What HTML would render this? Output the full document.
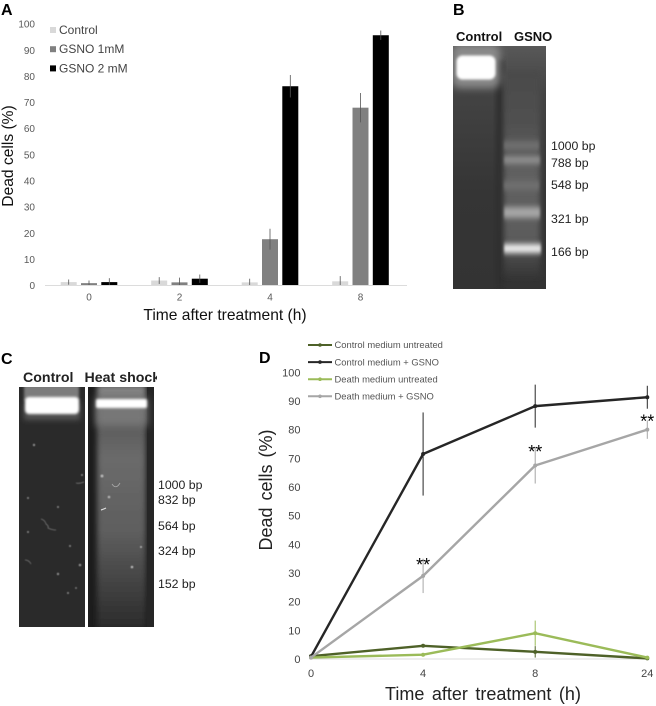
<!DOCTYPE html>
<html lang="en">
<head>
<meta charset="utf-8">
<title>Dead cells after treatment</title>
<style>
html,body{margin:0;padding:0;background:#fff;}
svg{display:block;font-family:"Liberation Sans",Arial,sans-serif;}
</style>
</head>
<body>
<svg id="fig" xmlns="http://www.w3.org/2000/svg" width="656" height="706" viewBox="0 0 656 706">
<defs>
<filter id="b1" x="-30%" y="-30%" width="160%" height="160%"><feGaussianBlur stdDeviation="1.3"/></filter>
<filter id="b2" x="-30%" y="-100%" width="160%" height="300%"><feGaussianBlur stdDeviation="2.6"/></filter>
<filter id="b3" x="-30%" y="-200%" width="160%" height="500%"><feGaussianBlur stdDeviation="1.2 3"/></filter>
<filter id="b4" x="-30%" y="-30%" width="160%" height="160%"><feGaussianBlur stdDeviation="4"/></filter>
<filter id="bs" x="-100%" y="-100%" width="300%" height="300%"><feGaussianBlur stdDeviation="0.6"/></filter>
<clipPath id="clipB"><rect x="453" y="46" width="93" height="243"/></clipPath>
<clipPath id="clipC1"><rect x="19" y="387" width="66" height="240"/></clipPath>
<clipPath id="clipC2"><rect x="88" y="387" width="66" height="240"/></clipPath>
<linearGradient id="gelBbg" x1="0" y1="0" x2="0" y2="1">
<stop offset="0" stop-color="#585858"/><stop offset="0.2" stop-color="#434343"/><stop offset="0.6" stop-color="#353535"/><stop offset="1" stop-color="#333333"/>
</linearGradient>
<linearGradient id="laneB" x1="0" y1="0" x2="0" y2="1">
<stop offset="0" stop-color="#4a4a4a"/><stop offset="0.25" stop-color="#505050"/><stop offset="0.5" stop-color="#606060"/><stop offset="0.8" stop-color="#5c5c5c"/><stop offset="1" stop-color="#363636"/>
</linearGradient>
<linearGradient id="laneC" x1="0" y1="0" x2="0" y2="1">
<stop offset="0" stop-color="#8a8a8a"/><stop offset="0.14" stop-color="#5a5a5a"/><stop offset="0.3" stop-color="#6a6a6a"/><stop offset="0.6" stop-color="#5e5e5e"/><stop offset="0.85" stop-color="#3e3e3e"/><stop offset="1" stop-color="#2a2a2a"/>
</linearGradient>
</defs>
<rect width="656" height="706" fill="#fff"/>

<!-- Panel labels -->
<text x="1" y="15" font-size="16" font-weight="bold" fill="#000">A</text>
<text x="453" y="15" font-size="16" font-weight="bold" fill="#000">B</text>
<text x="1" y="364" font-size="16" font-weight="bold" fill="#000">C</text>
<text x="259" y="363" font-size="16" font-weight="bold" fill="#000">D</text>

<!-- Panel B gel -->
<g>
<text x="456" y="41" font-size="13" font-weight="bold" fill="#111">Control</text>
<text x="514" y="41" font-size="13" font-weight="bold" fill="#111">GSNO</text>
<g clip-path="url(#clipB)">
<rect x="453" y="46" width="93" height="243" fill="url(#gelBbg)"/>
<rect x="496" y="60" width="8" height="229" fill="#2e2e2e" filter="url(#b2)"/>
<rect x="504" y="72" width="36" height="205" fill="url(#laneB)" filter="url(#b2)"/>
<rect x="452" y="44" width="48" height="44" rx="8" fill="#8a8a8a" filter="url(#b4)"/>
<rect x="456.5" y="55.5" width="39" height="24" rx="6" fill="#fff" filter="url(#b1)"/>
<rect x="504" y="141" width="35" height="9" fill="#707070" filter="url(#b3)"/>
<rect x="504" y="156" width="36" height="8" fill="#8e8e8e" filter="url(#b3)"/>
<rect x="504" y="181" width="35" height="9" fill="#707070" filter="url(#b3)"/>
<rect x="504" y="207" width="36" height="11" fill="#a6a6a6" filter="url(#b3)"/>
<rect x="504" y="244" width="37" height="9" fill="#f0f0f0" filter="url(#b3)"/>
</g>
</g>
<g font-size="12.3" fill="#222">
<text x="551" y="150">1000 bp</text>
<text x="551" y="167">788 bp</text>
<text x="551" y="189">548 bp</text>
<text x="551" y="223">321 bp</text>
<text x="551" y="256">166 bp</text>
</g>

<!-- Panel C gel -->
<g>
<text x="23" y="382" font-size="14.2" font-weight="bold" fill="#222">Control</text>
<svg x="0" y="360" width="157" height="30"><text x="84.5" y="22" font-size="14.2" font-weight="bold" fill="#222">Heat shock</text></svg>
<g clip-path="url(#clipC1)">
<rect x="19" y="387" width="66" height="240" fill="#2a2a2a"/>
<rect x="24" y="385" width="55" height="16" fill="#7c7c7c" filter="url(#b1)"/>
<rect x="24" y="402" width="56" height="18" fill="#555" filter="url(#b2)"/>
<rect x="25" y="397" width="54" height="17" rx="4" fill="#fff" filter="url(#b1)"/>
<g fill="none" stroke="#777" stroke-width="0.8" filter="url(#bs)">
<path d="M41 519 q4 1 5 5 q3 2 2 4 q4 2 8 2"/>
<path d="M25 560 q4 0 6 4"/>
<path d="M76 483 q3 1 8 -1"/>
</g>
<g fill="#8a8a8a" filter="url(#bs)">
<circle cx="34" cy="445" r="1.2"/><circle cx="58" cy="574" r="1.2"/><circle cx="80" cy="565" r="1.3"/><circle cx="68" cy="593" r="1"/><circle cx="28" cy="498" r="1"/><circle cx="28" cy="532" r="1"/><circle cx="70" cy="546" r="1"/><circle cx="58" cy="507" r="1"/><circle cx="82" cy="475" r="1"/><circle cx="76" cy="588" r="0.9"/>
</g>
</g>
<g clip-path="url(#clipC2)">
<rect x="88" y="387" width="66" height="240" fill="#1c1c1c"/>
<rect x="97" y="385" width="49" height="244" fill="url(#laneC)" filter="url(#b2)"/>
<rect x="147" y="387" width="7" height="240" fill="#262626"/>
<rect x="96" y="398" width="51" height="28" fill="#777" filter="url(#b4)"/>
<rect x="96" y="399" width="51" height="9" rx="2" fill="#fff" filter="url(#b1)"/>
<g fill="#b5b5b5" filter="url(#bs)">
<circle cx="102" cy="476" r="1.5"/><circle cx="109" cy="497" r="1.3"/><circle cx="132" cy="567" r="1.3"/><circle cx="141" cy="547" r="1"/>
</g>
<path d="M101 510 q3 -1 5 -2" stroke="#ddd" stroke-width="1.2" fill="none"/>
<path d="M112 484 q4 6 8 -1" stroke="#aaa" stroke-width="0.8" fill="none"/>
</g>
</g>
<rect x="85" y="387" width="3" height="240" fill="#fff"/>
<g font-size="12.3" fill="#222">
<text x="158" y="489">1000 bp</text>
<text x="158" y="504">832 bp</text>
<text x="158" y="530">564 bp</text>
<text x="158" y="555">324 bp</text>
<text x="158" y="588">152 bp</text>
</g>
<g id="chartA"></g>
<g id="chartD"></g>
</svg>
<script>
// Panel A data
const barCategories = ['0', '2', '4', '8'];
const barSeriesNames = ['Control', 'GSNO 1mM', 'GSNO 2 mM'];
const barControl = [1.3, 1.9, 1.2, 1.6];
const barGsno1 = [0.9, 1.2, 17.7, 68];
const barGsno2 = [1.3, 2.6, 76.2, 95.7];
const barControlErr = [1, 1.3, 1.4, 2];
const barGsno1Err = [1, 1.8, 4, 5.6];
const barGsno2Err = [1.5, 1.6, 4.3, 1.8];
const barYTicks = [0, 10, 20, 30, 40, 50, 60, 70, 80, 90, 100];

// Panel D data
const lineCategories = ['0', '4', '8', '24'];
const lineYTicks = [0, 10, 20, 30, 40, 50, 60, 70, 80, 90, 100];
const lineSeriesNames = ['Control medium untreated', 'Control medium + GSNO', 'Death medium untreated', 'Death medium + GSNO'];
const controlUntreated = [1, 4.6, 2.5, 0.2];
const controlGsno = [0.8, 71.5, 88.2, 91.3];
const deathUntreated = [0.5, 1.5, 9, 0.5];
const deathGsno = [0.5, 29, 67.5, 80];
const controlUntreatedErr = [0, 0.6, 2, 0.3];
const controlGsnoErr = [0, 14.5, 7.5, 4];
const deathUntreatedErr = [0, 0.5, 4.4, 0.4];
const deathGsnoErr = [0, 6, 6.3, 3.2];
const significance = ['', '**', '**', '**'];

const NS = 'http://www.w3.org/2000/svg';
function add(parent, tag, name, attrs, text) {
  const el = document.createElementNS(NS, tag);
  
  
  for (const k in attrs) el.setAttribute(k, attrs[k]);
  if (text !== undefined) el.textContent = text;
  parent.appendChild(el);
  return el;
}

// ---- Panel A ----
(function () {
  const g = document.getElementById('chartA');
  const yA = v => 285.5 - v * 2.615;
  const xA = i => 89 + i * 90.5;
  const groupOffset = s => (s - 1) * 20.3;
  const barW = 16;
  const colors = ['#d9d9d9', '#808080', '#000000'];
  const values = [barControl, barGsno1, barGsno2];
  const errs = [barControlErr, barGsno1Err, barGsno2Err];

  barYTicks.forEach(t => {
    add(g, 'text', 'y-tick-label-' + t, {x: 35, y: yA(t) + 3.6, 'font-size': 10, 'text-anchor': 'end', fill: '#595959'}, String(t));
  });
  barCategories.forEach((c, i) => {
    add(g, 'text', 'x-tick-label-' + c, {x: xA(i), y: 300.5, 'font-size': 10, 'text-anchor': 'middle', fill: '#595959'}, c);
  });
  values.forEach((series, s) => {
    series.forEach((v, i) => {
      const cx = xA(i) + groupOffset(s);
      add(g, 'rect', 'bar-s' + s + '-' + barCategories[i], {x: cx - barW / 2, y: yA(v), width: barW, height: yA(0) - yA(v), fill: colors[s]});
      const e = errs[s][i];
      add(g, 'line', 'error-bar-s' + s + '-' + barCategories[i], {x1: cx, x2: cx, y1: yA(v + e), y2: yA(Math.max(v - e, 0)), stroke: '#555', 'stroke-width': 0.8});
    });
  });
  add(g, 'line', 'x-axis', {x1: 45, x2: 407, y1: yA(0), y2: yA(0), stroke: '#dcdcdc', 'stroke-width': 1});
  add(g, 'text', 'x-axis-title', {x: 225, y: 320, 'font-size': 15.6, 'text-anchor': 'middle', fill: '#111'}, 'Time after treatment (h)');
  add(g, 'text', 'y-axis-title', {transform: 'translate(13 156) rotate(-90)', 'font-size': 15.6, 'text-anchor': 'middle', fill: '#111'}, 'Dead cells (%)');

  barSeriesNames.forEach((n, s) => {
    const cy = 30 + s * 19.2;
    add(g, 'rect', 'legend-swatch-' + s, {x: 50, y: cy - 3, width: 6, height: 6, fill: colors[s]});
    add(g, 'text', 'legend-entry-' + s, {x: 59, y: cy + 4, 'font-size': 12, fill: '#444'}, n);
  });
})();

// ---- Panel D ----
(function () {
  const g = document.getElementById('chartD');
  const yD = v => 659 - v * 2.867;
  const xD = i => 311 + i * 112.1;
  const colors = ['#4e6128', '#262626', '#9bbb59', '#a6a6a6'];
  const values = [controlUntreated, controlGsno, deathUntreated, deathGsno];
  const errs = [controlUntreatedErr, controlGsnoErr, deathUntreatedErr, deathGsnoErr];

  lineYTicks.forEach(t => {
    add(g, 'text', 'y-tick-label-' + t, {x: 300.5, y: yD(t) + 4, 'font-size': 11, 'text-anchor': 'end', fill: '#444'}, String(t));
  });
  lineCategories.forEach((c, i) => {
    add(g, 'text', 'x-tick-label-' + c, {x: xD(i), y: 677, 'font-size': 11, 'text-anchor': 'middle', fill: '#444'}, c);
  });
  add(g, 'line', 'x-axis', {x1: 311, x2: 648, y1: yD(0), y2: yD(0), stroke: '#dcdcdc', 'stroke-width': 1});

  values.forEach((series, s) => {
    series.forEach((v, i) => {
      const e = errs[s][i];
      if (e > 0) add(g, 'line', 'error-bar-s' + s + '-' + lineCategories[i], {x1: xD(i), x2: xD(i), y1: yD(v + e), y2: yD(v - e), stroke: colors[s], 'stroke-width': 1});
    });
    const pts = series.map((v, i) => xD(i) + ',' + yD(v)).join(' ');
    add(g, 'polyline', 'series-line-' + s, {points: pts, fill: 'none', stroke: colors[s], 'stroke-width': 2.4, 'stroke-linejoin': 'round'});
    series.forEach((v, i) => {
      add(g, 'circle', 'series-point-s' + s + '-' + lineCategories[i], {cx: xD(i), cy: yD(v), r: 2, fill: colors[s]});
    });
  });

  // Significance marks sit a small distance above the Death medium + GSNO points.
  significance.forEach((t, i) => {
    if (t) add(g, 'text', 'significance-' + lineCategories[i], {x: xD(i), y: yD(deathGsno[i]) - [0, 5, 7.5, 2][i], 'font-size': 18, 'text-anchor': 'middle', fill: '#000'}, t);
  });

  add(g, 'text', 'x-axis-title', {x: 483, y: 700, 'font-size': 18, 'word-spacing': 2.5, 'text-anchor': 'middle', fill: '#222'}, 'Time after treatment (h)');
  add(g, 'text', 'y-axis-title', {transform: 'translate(272 490) rotate(-90)', 'font-size': 18, 'word-spacing': 2, 'text-anchor': 'middle', fill: '#222'}, 'Dead cells (%)');

  lineSeriesNames.forEach((n, s) => {
    const cy = 345 + s * 17.1;
    add(g, 'line', 'legend-line-' + s, {x1: 308, x2: 332, y1: cy, y2: cy, stroke: colors[s], 'stroke-width': 2});
    add(g, 'circle', 'legend-marker-' + s, {cx: 320, cy: cy, r: 1.8, fill: colors[s]});
    add(g, 'text', 'legend-entry-' + s, {x: 334.5, y: cy + 3.2, 'font-size': 9.4, fill: '#555'}, n);
  });
})();
</script>
</body>
</html>
